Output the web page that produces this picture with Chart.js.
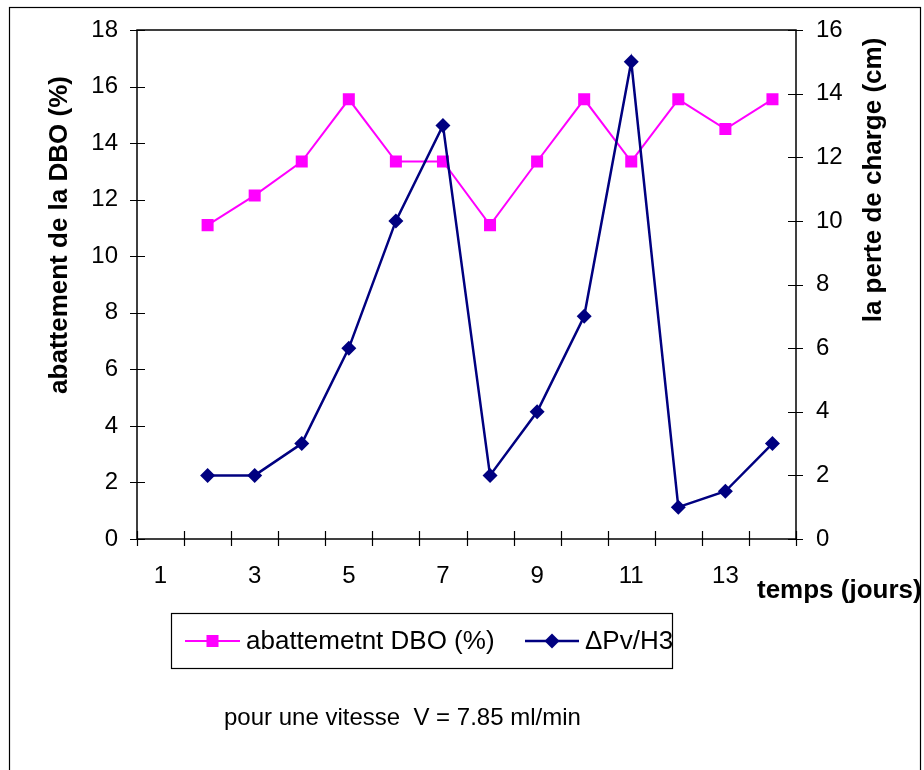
<!DOCTYPE html>
<html>
<head>
<meta charset="utf-8">
<script src="https://cdn.jsdelivr.net/npm/chart.js@4.4.1/dist/chart.umd.min.js"></script>
<style>
  body { margin: 0; background: #fff; }
  canvas { display: block; }
</style>
</head>
<body>
<canvas id="graphe" width="924" height="770"></canvas>
<script>
// données
const jours = ['1', '2', '3', '4', '5', '6', '7', '8', '9', '10', '11', '12', '13', '14'];
const abattement = [null, 11.1, 12.15, 13.35, 15.55, 13.35, 13.35, 11.1, 13.35, 15.55, 13.35, 15.55, 14.5, 15.55];
const perteCharge = [null, 2, 2, 3, 6, 10, 13, 2, 4, 7, 15, 1, 1.5, 3];
const legendes = ['abattemetnt DBO (%)', '\u0394Pv/H3'];

const police = '"Liberation Sans", Arial, sans-serif';
const rose = '#FF00FF';
const marine = '#000080';

// fond blanc, cadres, graduations, titres et légende
const decor = {
    id: 'decor',
    beforeDraw(chart) {
        const ctx = chart.ctx;
        ctx.save();
        ctx.fillStyle = '#fff';
        ctx.fillRect(0, 0, chart.width, chart.height);
        ctx.restore();
    },
    afterDraw(chart) {
        const ctx = chart.ctx;
        const a = chart.chartArea;
        ctx.save();
        // cadre extérieur
        ctx.strokeStyle = '#000';
        ctx.lineWidth = 1.2;
        ctx.strokeRect(9.5, 7.5, 911, 800);
        // cadre du tracé
        ctx.lineWidth = 1.5;
        ctx.strokeRect(a.left, a.top, a.right - a.left, a.bottom - a.top);
        // graduations croisées
        ctx.lineWidth = 1.2;
        ctx.beginPath();
        const sy = chart.scales.y, sy1 = chart.scales.y1, sx = chart.scales.x;
        sy.ticks.forEach(t => {
            const p = Math.round(sy.getPixelForValue(t.value)) + 0.5;
            ctx.moveTo(a.left - 7, p); ctx.lineTo(a.left + 8, p);
        });
        sy1.ticks.forEach(t => {
            const p = Math.round(sy1.getPixelForValue(t.value)) + 0.5;
            ctx.moveTo(a.right - 8, p); ctx.lineTo(a.right + 7, p);
        });
        const n = jours.length;
        for (let i = 0; i <= n; i++) {
            const p = Math.round(sx.left + i * (sx.right - sx.left) / n) + 0.5;
            ctx.moveTo(p, a.bottom - 8); ctx.lineTo(p, a.bottom + 7);
        }
        ctx.stroke();

        // titres des axes
        ctx.fillStyle = '#000';
        ctx.font = 'bold 26px ' + police;
        ctx.textAlign = 'center';
        ctx.textBaseline = 'middle';
        ctx.save();
        ctx.translate(60, 235);
        ctx.rotate(-Math.PI / 2);
        ctx.fillText('abattement de la DBO (%)', 0, 0);
        ctx.restore();
        ctx.save();
        ctx.translate(874, 180);
        ctx.rotate(-Math.PI / 2);
        ctx.fillText('la perte de charge (cm)', 0, 0);
        ctx.restore();
        ctx.textAlign = 'left';
        ctx.fillText('temps (jours)', 757, 591);

        // légende
        ctx.lineWidth = 1.2;
        ctx.strokeStyle = '#000';
        ctx.strokeRect(171.5, 613.5, 501, 55);
        const entrees = [
            { x1: 185, x2: 240, tx: 246, ds: chart.data.datasets[0] },
            { x1: 525, x2: 579, tx: 585, ds: chart.data.datasets[1] }
        ];
        ctx.font = '26px ' + police;
        entrees.forEach((e, i) => {
            const y = 641;
            ctx.strokeStyle = e.ds.borderColor;
            ctx.lineWidth = e.ds.borderWidth;
            ctx.beginPath();
            ctx.moveTo(e.x1, y); ctx.lineTo(e.x2, y);
            ctx.stroke();
            ctx.fillStyle = e.ds.backgroundColor;
            Chart.helpers.drawPoint(ctx, {
                pointStyle: e.ds.pointStyle,
                radius: e.ds.pointRadius,
                rotation: 0,
                borderWidth: 0
            }, (e.x1 + e.x2) / 2, y);
            ctx.fillStyle = '#000';
            ctx.fillText(legendes[i], e.tx, y + 1);
        });

        // note
        ctx.font = '24px ' + police;
        ctx.fillText('pour une vitesse  V = 7.85 ml/min', 224, 718);
        ctx.restore();
    }
};

new Chart(document.getElementById('graphe'), {
    type: 'line',
    data: {
        labels: jours,
        datasets: [{
            label: legendes[0],
            data: abattement,
            yAxisID: 'y',
            borderColor: rose,
            backgroundColor: rose,
            borderWidth: 2,
            pointStyle: 'rect',
            pointRadius: 8.5,
            pointBorderWidth: 0,
            tension: 0,
            order: 2
        }, {
            label: legendes[1],
            data: perteCharge,
            yAxisID: 'y1',
            borderColor: marine,
            backgroundColor: marine,
            borderWidth: 2.5,
            pointStyle: 'rectRot',
            pointRadius: 7.5,
            pointBorderWidth: 0,
            tension: 0,
            order: 1
        }]
    },
    options: {
        responsive: false,
        animation: false,
        layout: { padding: { top: 30, left: 0, right: 0, bottom: 0 } },
        plugins: {
            legend: { display: false },
            tooltip: { enabled: false }
        },
        scales: {
            x: {
                type: 'category',
                offset: true,
                grid: { display: false },
                border: { display: false },
                ticks: {
                    autoSkip: false,
                    maxRotation: 0,
                    padding: 15,
                    color: '#000',
                    font: { size: 24, family: police },
                    callback: function (v, i) { return i % 2 === 0 ? this.getLabelForValue(v) : ''; }
                },
                afterFit(s) { s.height = 231; }
            },
            y: {
                position: 'left',
                min: 0,
                max: 18,
                grid: { display: false },
                border: { display: false },
                ticks: { stepSize: 2, padding: 11, color: '#000', font: { size: 24, family: police } },
                afterFit(s) { s.width = 137; }
            },
            y1: {
                position: 'right',
                min: 0,
                max: 16,
                grid: { display: false },
                border: { display: false },
                ticks: { stepSize: 2, padding: 12, color: '#000', font: { size: 24, family: police } },
                afterFit(s) { s.width = 128; }
            }
        }
    },
    plugins: [decor]
});
</script>
</body>
</html>
